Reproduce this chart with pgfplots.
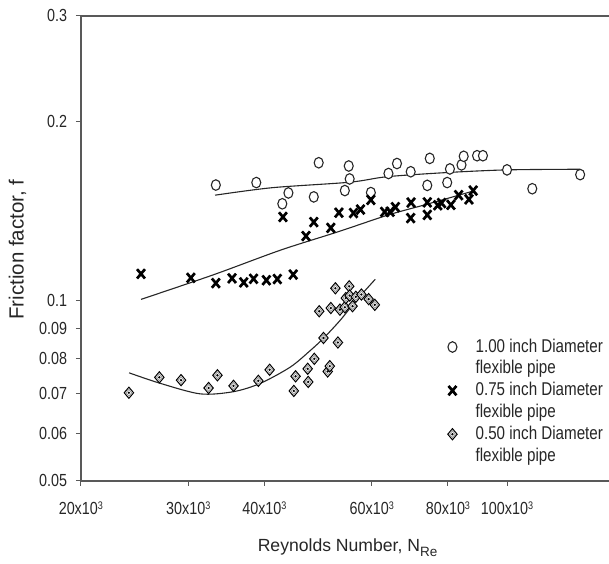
\documentclass[border=0pt]{standalone}
\usepackage{fontspec}
\setmainfont{Liberation Sans}
\newfontfamily\narrowfont[FakeStretch=0.82]{Liberation Sans}
\usepackage{pgfplots}
\pgfplotsset{compat=1.18}
\colorlet{innergray}{black!40}
\pgfdeclareplotmark{ddia}{%
  \pgfsetlinewidth{1pt}%
  \pgfsetstrokecolor{black}%
  \pgfpathmoveto{\pgfqpoint{0pt}{5.6pt}}%
  \pgfpathlineto{\pgfqpoint{4.7pt}{0pt}}%
  \pgfpathlineto{\pgfqpoint{0pt}{-5.6pt}}%
  \pgfpathlineto{\pgfqpoint{-4.7pt}{0pt}}%
  \pgfpathclose
  \pgfsetfillcolor{white}%
  \pgfusepath{fill,stroke}%
  \pgfsetstrokecolor{innergray}%
  \pgfsetlinewidth{0.8pt}%
  \pgfpathmoveto{\pgfqpoint{0pt}{3.4pt}}%
  \pgfpathlineto{\pgfqpoint{2.85pt}{0pt}}%
  \pgfpathlineto{\pgfqpoint{0pt}{-3.4pt}}%
  \pgfpathlineto{\pgfqpoint{-2.85pt}{0pt}}%
  \pgfpathclose
  \pgfusepath{stroke}%
  \pgfsetfillcolor{black}%
  \pgfpathcircle{\pgfpointorigin}{1.3pt}%
  \pgfusepath{fill}%
}
\newcommand{\sx}[1]{#1x10\raisebox{0.55ex}{\fontsize{11}{11}\selectfont 3}}
\begin{document}
\begin{tikzpicture}
\useasboundingbox (0,0) rectangle (609pt,563pt);
\begin{axis}[
  at={(80.8pt,82.2pt)}, anchor=south west,
  scale only axis, width=528.2pt, height=465pt,
  xmode=log, ymode=log,
  xmin=20000, xmax=147000, ymin=0.05, ymax=0.3,
  axis x line*=box, axis y line*=left,
  xtick pos=left, ytick pos=left,
  axis line style={black!65, line width=1.5pt},
  xtick={20000,30000,40000,60000,80000,100000},
  xticklabels={\sx{20},\sx{30},\sx{40},\sx{60},\sx{80},\sx{100}},
  ytick={0.05,0.06,0.07,0.08,0.09,0.1,0.2,0.3},
  yticklabels={0.05,0.06,0.07,0.08,0.09,0.1,0.2,0.3},
  minor xtick={}, minor ytick={},
  tick align=outside, major tick length=5pt,
  tick style={black!65, line width=1pt},
  xticklabel style={font=\narrowfont\fontsize{17.5}{20}\selectfont, anchor=base, inner sep=0pt, yshift=-29pt, text=black!85},
  yticklabel style={font=\narrowfont\fontsize{17.5}{20}\selectfont, anchor=east, inner sep=0pt, xshift=-8.5pt, text=black!85},
  xlabel={Reynolds Number, N\raisebox{-0.45ex}{\fontsize{13.5}{14}\selectfont Re}},
  xlabel style={at={(axis description cs:0.505,-0.1527)}, anchor=base, font=\fontsize{17.6}{20}\selectfont, text=black!85, inner sep=0pt},
  ylabel={Friction factor, f},
  ylabel style={at={(axis description cs:-0.1198,0.497)}, anchor=center, rotate=0, font=\fontsize{20.5}{22}\selectfont, text=black!85, inner sep=0pt},
  legend cell align=left,
  legend style={draw=none, fill=none, at={(axis description cs:0.6874,0.3071)}, anchor=north west,
    inner sep=0pt, outer sep=0pt, row sep=3.8pt, column sep=18pt,
    font=\narrowfont\fontsize{18.5}{22}\selectfont,
    nodes={inner sep=0pt, text height=14pt, text depth=4pt, text=black!85}},
]
% 1.00 inch
\addplot[only marks, mark=*, mark size=5.3pt, mark options={fill=white, draw=black!85, line width=1.1pt, xscale=0.85}] coordinates {
(33300,0.1563) (38800,0.1578) (42800,0.1454) (43800,0.1516) (48200,0.1493)
(49100,0.1703) (54200,0.1530) (55000,0.1682) (55200,0.1600) (59800,0.1518)
(63900,0.1634) (66000,0.1698) (69500,0.1645) (74000,0.1561) (74700,0.1732)
(79800,0.1578) (80600,0.1663) (84200,0.1689) (84900,0.1746) (89300,0.1750)
(91300,0.1750) (100000,0.1657) (110000,0.1541) (131800,0.1627)
};
\addlegendentry{1.00 inch Diameter}
\addlegendimage{empty legend}
\addlegendentry{flexible pipe}
\addplot[smooth, black!85, line width=1.1pt, forget plot] coordinates {
(33200,0.1503) (41200,0.1547) (55200,0.1580) (63600,0.1614) (79700,0.1640) (100000,0.1657) (131800,0.1661)
};
% 0.75 inch
\addplot[only marks, mark=x, mark size=6.6pt, mark options={draw=black, line width=2.7pt, xscale=0.85}] coordinates {
(25100,0.1110) (30300,0.1093) (33300,0.1071) (35400,0.1091) (37000,0.1074)
(38400,0.1089) (40300,0.1083) (42000,0.1088) (44600,0.1107) (42900,0.1382)
(46800,0.1284) (48200,0.1355) (51400,0.1325) (53000,0.1405) (56000,0.1403)
(57500,0.1422) (59800,0.1476) (63000,0.1409) (64300,0.1410) (65600,0.1435)
(69600,0.1461) (69500,0.1376) (74000,0.1462) (74000,0.1393) (77000,0.1446)
(78100,0.1458) (80900,0.1448) (83300,0.1503) (86600,0.1479) (88000,0.1530)
};
\addlegendentry{0.75 inch Diameter}
\addlegendimage{empty legend}
\addlegendentry{flexible pipe}
\addplot[smooth, black!85, line width=1.1pt, forget plot] coordinates {
(25100,0.1006) (33000,0.1106) (42500,0.1216) (52800,0.1305) (63900,0.1393) (74000,0.1452) (87600,0.1525)
};
% 0.50 inch
\addplot[only marks, mark=ddia] coordinates {
(23980,0.0702) (26900,0.0745) (29200,0.0737) (32400,0.0715) (33500,0.0751)
(35600,0.0721) (39100,0.0735) (40800,0.0767) (44700,0.0707) (45000,0.0748)
(47100,0.0770) (47200,0.0732) (48300,0.0800) (49200,0.0961) (50000,0.0867)
(50800,0.0762) (51200,0.0778) (51400,0.0973) (52300,0.1050) (52800,0.0852)
(53200,0.0967) (54200,0.0976) (54400,0.1011) (55100,0.1058) (55200,0.1021)
(55800,0.0980) (56500,0.1016) (57700,0.1025) (59300,0.1007) (60700,0.0985)
};
\addlegendentry{0.50 inch Diameter}
\addlegendimage{empty legend}
\addlegendentry{flexible pipe}
\addplot[smooth, black!85, line width=1.1pt, forget plot] coordinates {
(24000,0.0758) (27000,0.0728) (31400,0.0699) (35600,0.0705) (39400,0.0728) (44100,0.0775) (47500,0.0825) (50000,0.0866) (53300,0.0929) (56700,0.1004) (60800,0.1087)
};
\end{axis}
\end{tikzpicture}
\end{document}
